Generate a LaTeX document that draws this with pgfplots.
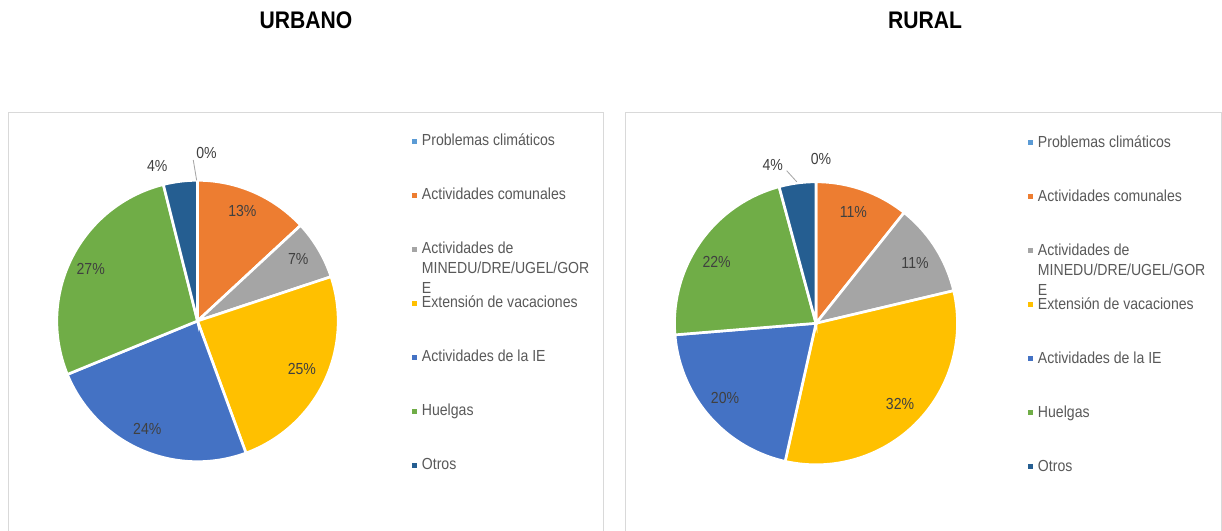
\documentclass[border=0pt]{standalone}
\usepackage{fontspec}
\setmainfont{Liberation Sans}[FakeStretch=0.88]
\usepackage{pgfplots}
\pgfplotsset{compat=1.18}
\definecolor{cP}{HTML}{5B9BD5}
\definecolor{cO}{HTML}{ED7D31}
\definecolor{cG}{HTML}{A5A5A5}
\definecolor{cY}{HTML}{FFC000}
\definecolor{cB}{HTML}{4472C4}
\definecolor{cV}{HTML}{70AD47}
\definecolor{cD}{HTML}{255E91}
\definecolor{framec}{HTML}{D9D9D9}
\definecolor{labc}{HTML}{404040}
\definecolor{legc}{HTML}{595959}
\pgfplotsset{
  pieaxis/.style={hide axis, scale only axis, xmin=-1, xmax=1, ymin=-1, ymax=1,
    clip=false, anchor=center, legend cell align=left,
    legend image code/.code={\path[draw=none, fill] (0pt,-1.5pt) rectangle (3.75pt,2.25pt);},
    legend style={anchor=north west, draw=none, fill=none, inner sep=0pt, outer sep=0pt,
      row sep=28.5pt, column sep=3.75pt,
      nodes={inner sep=0pt, text height=9pt, text depth=3pt,
        font=\fontsize{12}{14}\selectfont, text=legc}}},
  slice/.style={fill=#1, draw=white, line width=2pt, samples=60}
}
\tikzset{lab/.style={font=\fontsize{12}{14}\selectfont, text=labc}}
\newcommand\minedu{\smash{\parbox[t]{8cm}{\raggedright\baselineskip=15pt Actividades de\\MINEDU/DRE/UGEL/GOR\\E}}}
\begin{document}
\begin{tikzpicture}[x=0.75pt,y=0.75pt]
\clip (0,0) rectangle (1222,531);
\fill[white] (0,0) rectangle (1222,531);
\draw[framec, line width=0.75pt] (8,-5) -- (8,418.5) -- (603,418.5) -- (603,-5);
\draw[framec, line width=0.75pt] (625,-5) -- (625,418.5) -- (1221.5,418.5) -- (1221.5,-5);
\node[font=\bfseries\fontsize{18}{20}\selectfont] at (306,511) {URBANO};
\node[font=\bfseries\fontsize{18}{20}\selectfont] at (925,511) {RURAL};

% URBANO: shares (%) 0, 13.1, 6.8, 24.5, 24.4, 27.3, 3.9 (cumulative bounds below)
\begin{axis}[pieaxis, at={(148.125pt,157.5pt)}, width=211.05pt, height=211.05pt,
  legend style={at={(1.262,1.1646)}}]
\addlegendimage{fill=cP, draw=none}\addlegendentry{Problemas climáticos}
\addplot[slice=cO, domain=0:13.1] ({sin(3.6*x)},{cos(3.6*x)}) -- (axis cs:0,0) -- cycle;
\addlegendentry{Actividades comunales}
\addplot[slice=cG, domain=13.1:19.9] ({sin(3.6*x)},{cos(3.6*x)}) -- (axis cs:0,0) -- cycle;
\addlegendentry{\minedu}
\addplot[slice=cY, domain=19.9:44.4] ({sin(3.6*x)},{cos(3.6*x)}) -- (axis cs:0,0) -- cycle;
\addlegendentry{Extensión de vacaciones}
\addplot[slice=cB, domain=44.4:68.8] ({sin(3.6*x)},{cos(3.6*x)}) -- (axis cs:0,0) -- cycle;
\addlegendentry{Actividades de la IE}
\addplot[slice=cV, domain=68.8:96.1] ({sin(3.6*x)},{cos(3.6*x)}) -- (axis cs:0,0) -- cycle;
\addlegendentry{Huelgas}
\addplot[slice=cD, domain=96.1:100] ({sin(3.6*x)},{cos(3.6*x)}) -- (axis cs:0,0) -- cycle;
\addlegendentry{Otros}
\draw[color=cG, line width=0.6pt] (axis cs:-0.030,1.144) -- (axis cs:-0.006,1.0);
\node[lab] at (axis cs:0.064,1.191) {0\%};
\node[lab] at (axis cs:0.319,0.780) {13\%};
\node[lab] at (axis cs:0.716,0.440) {7\%};
\node[lab] at (axis cs:0.742,-0.340) {25\%};
\node[lab] at (axis cs:-0.357,-0.766) {24\%};
\node[lab] at (axis cs:-0.759,0.369) {27\%};
\node[lab] at (axis cs:-0.286,1.101) {4\%};
\end{axis}

% RURAL: shares (%) 0, 10.7, 10.6, 32.2, 20.2, 22.1, 4.2
\begin{axis}[pieaxis, at={(612pt,155.775pt)}, width=212.25pt, height=212.25pt,
  legend style={at={(1.249,1.165)}}]
\addlegendimage{fill=cP, draw=none}\addlegendentry{Problemas climáticos}
\addplot[slice=cO, domain=0:10.7] ({sin(3.6*x)},{cos(3.6*x)}) -- (axis cs:0,0) -- cycle;
\addlegendentry{Actividades comunales}
\addplot[slice=cG, domain=10.7:21.3] ({sin(3.6*x)},{cos(3.6*x)}) -- (axis cs:0,0) -- cycle;
\addlegendentry{\minedu}
\addplot[slice=cY, domain=21.3:53.5] ({sin(3.6*x)},{cos(3.6*x)}) -- (axis cs:0,0) -- cycle;
\addlegendentry{Extensión de vacaciones}
\addplot[slice=cB, domain=53.5:73.7] ({sin(3.6*x)},{cos(3.6*x)}) -- (axis cs:0,0) -- cycle;
\addlegendentry{Actividades de la IE}
\addplot[slice=cV, domain=73.7:95.8] ({sin(3.6*x)},{cos(3.6*x)}) -- (axis cs:0,0) -- cycle;
\addlegendentry{Huelgas}
\addplot[slice=cD, domain=95.8:100] ({sin(3.6*x)},{cos(3.6*x)}) -- (axis cs:0,0) -- cycle;
\addlegendentry{Otros}
\draw[color=cG, line width=0.6pt] (axis cs:-0.207,1.078) -- (axis cs:-0.136,1.0);
\node[lab] at (axis cs:0.035,1.159) {0\%};
\node[lab] at (axis cs:0.264,0.789) {11\%};
\node[lab] at (axis cs:0.700,0.424) {11\%};
\node[lab] at (axis cs:0.594,-0.570) {32\%};
\node[lab] at (axis cs:-0.643,-0.530) {20\%};
\node[lab] at (axis cs:-0.702,0.431) {22\%};
\node[lab] at (axis cs:-0.306,1.119) {4\%};
\end{axis}
\end{tikzpicture}
\end{document}
